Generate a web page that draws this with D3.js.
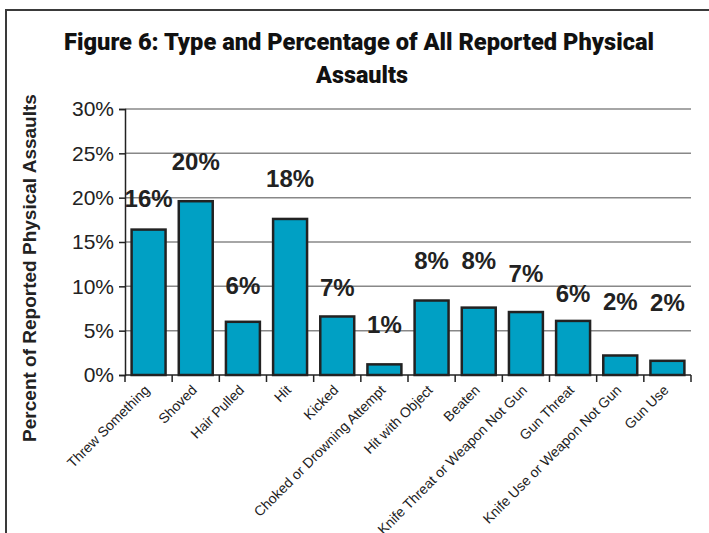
<!DOCTYPE html>
<html>
<head>
<meta charset="utf-8">
<script src="https://cdn.jsdelivr.net/npm/d3@7"></script>
<style>
  body { margin: 0; background: #fff; }
  svg { display: block; }
</style>
</head>
<body>
<div id="chart"></div>
<script>
// Chart data
var categories = ['Threw Something', 'Shoved', 'Hair Pulled', 'Hit', 'Kicked',
  'Choked or Drowning Attempt', 'Hit with Object', 'Beaten',
  'Knife Threat or Weapon Not Gun', 'Gun Threat', 'Knife Use or Weapon Not Gun', 'Gun Use'];
var values = [16.4, 19.6, 6.0, 17.6, 6.6, 1.2, 8.4, 7.6, 7.1, 6.1, 2.2, 1.6];
var valueLabels = ['16%', '20%', '6%', '18%', '7%', '1%', '8%', '8%', '7%', '6%', '2%', '2%'];
var yTicks = [0, 5, 10, 15, 20, 25, 30];

// Label lift above each bar (pixels), as placed in the original figure
var labelLift = [23, 31, 28, 32, 20, 31, 32, 39, 30, 19, 45, 50];

var svgWidth = 709;
var svgHeight = 533;

var margin = { top: 109, right: 18, bottom: 158, left: 125 };
var chartWidth = svgWidth - margin.left - margin.right;
var chartHeight = svgHeight - margin.top - margin.bottom;

var svg = d3.select('#chart')
  .append('svg')
  .attr('width', svgWidth)
  .attr('height', svgHeight);

// frame (top and left edges only)
svg.append('path')
  .attr('d', 'M6,' + svgHeight + ' V10 H' + svgWidth)
  .attr('fill', 'none')
  .attr('stroke', '#3a3a3a')
  .attr('stroke-width', 2);

// title
var title = svg.append('g')
  .attr('font-family', "'Liberation Sans Narrow', 'Roboto', 'Liberation Sans', sans-serif")
  .attr('font-weight', '900')
  .attr('font-size', '23px')
  .attr('fill', '#111')
  .attr('text-anchor', 'middle');

title.append('text')
  .attr('x', 359)
  .attr('y', 50)
  .attr('textLength', 590)
  .attr('lengthAdjust', 'spacingAndGlyphs')
  .text('Figure 6: Type and Percentage of All Reported Physical');

title.append('text')
  .attr('x', 362)
  .attr('y', 83)
  .attr('textLength', 92)
  .attr('lengthAdjust', 'spacingAndGlyphs')
  .text('Assaults');

var chartGroup = svg.append('g')
  .attr('transform', `translate(${margin.left}, ${margin.top})`);

var xBandScale = d3.scaleBand()
  .domain(categories)
  .range([0, chartWidth])
  .paddingInner(0.28)
  .paddingOuter(0.14);

var yLinearScale = d3.scaleLinear()
  .domain([0, 30])
  .range([chartHeight, 0]);

// gridlines
chartGroup.append('g')
  .selectAll('line')
  .data(yTicks.filter(d => d > 0))
  .enter()
  .append('line')
  .attr('x1', 0)
  .attr('x2', chartWidth)
  .attr('y1', d => yLinearScale(d))
  .attr('y2', d => yLinearScale(d))
  .attr('stroke', '#888')
  .attr('stroke-width', 1.5);

// y axis
var leftAxis = d3.axisLeft(yLinearScale)
  .tickValues(yTicks)
  .tickSize(6)
  .tickPadding(5)
  .tickFormat(d => d + '%');

var yAxis = chartGroup.append('g').call(leftAxis);
yAxis.select('.domain').attr('stroke', '#222').attr('stroke-width', 1.5);
yAxis.selectAll('.tick line').attr('stroke', '#222').attr('stroke-width', 1.5);
yAxis.selectAll('.tick text')
  .attr('font-family', "'Liberation Sans', Arial, sans-serif")
  .attr('font-size', '21px')
  .attr('fill', '#222');

// x axis with ticks at category boundaries
var step = chartWidth / categories.length;
var xAxis = chartGroup.append('g')
  .attr('transform', `translate(0, ${chartHeight})`);

xAxis.append('line')
  .attr('x1', 0)
  .attr('x2', chartWidth)
  .attr('stroke', '#222')
  .attr('stroke-width', 1.5);

xAxis.selectAll('.bound')
  .data(d3.range(categories.length + 1))
  .enter()
  .append('line')
  .attr('class', 'bound')
  .attr('x1', d => d * step)
  .attr('x2', d => d * step)
  .attr('y1', 0)
  .attr('y2', 7)
  .attr('stroke', '#222')
  .attr('stroke-width', 1.5);

xAxis.selectAll('.cat')
  .data(categories)
  .enter()
  .append('text')
  .attr('class', 'cat')
  .attr('text-anchor', 'end')
  .attr('font-family', "'Liberation Sans', Arial, sans-serif")
  .attr('font-size', '14px')
  .attr('fill', '#222')
  .attr('transform', d => {
    var cx = xBandScale(d) + xBandScale.bandwidth() / 2 + 2;
    return `translate(${cx}, 16) rotate(-45)`;
  })
  .text(d => d);

// bars
chartGroup.append('g')
  .selectAll('rect')
  .data(values)
  .enter()
  .append('rect')
  .attr('x', (d, i) => xBandScale(categories[i]))
  .attr('y', d => yLinearScale(d))
  .attr('width', xBandScale.bandwidth())
  .attr('height', d => chartHeight - yLinearScale(d))
  .attr('fill', '#00a0c4')
  .attr('stroke', '#222')
  .attr('stroke-width', 2.5);

// value labels
chartGroup.append('g')
  .selectAll('text')
  .data(values)
  .enter()
  .append('text')
  .attr('x', (d, i) => xBandScale(categories[i]) + xBandScale.bandwidth() / 2)
  .attr('y', (d, i) => yLinearScale(d) - labelLift[i])
  .attr('text-anchor', 'middle')
  .attr('font-family', "'Liberation Sans', Arial, sans-serif")
  .attr('font-weight', 'bold')
  .attr('font-size', '24px')
  .attr('fill', '#222')
  .text((d, i) => valueLabels[i]);

// y axis title
svg.append('text')
  .attr('transform', 'translate(36, 268) rotate(-90)')
  .attr('text-anchor', 'middle')
  .attr('font-family', "'Liberation Sans', Arial, sans-serif")
  .attr('font-weight', 'bold')
  .attr('font-size', '19px')
  .attr('fill', '#222')
  .text('Percent of Reported Physical Assaults');
</script>
</body>
</html>
